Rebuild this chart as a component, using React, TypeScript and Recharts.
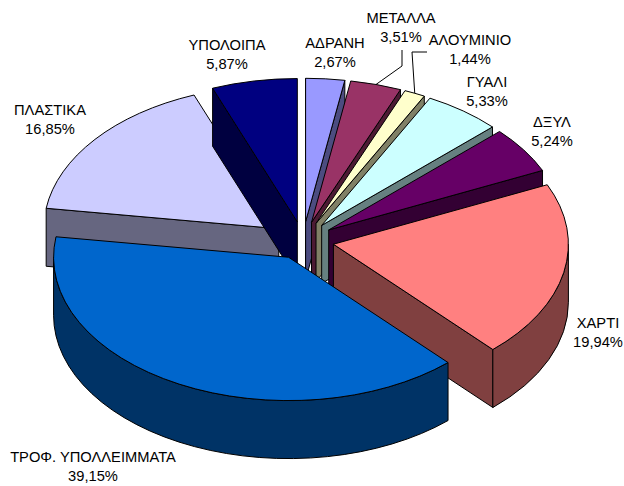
import React from "react";
import { PieChart, Pie, Cell } from "recharts";

const categories = ["ΠΛΑΣΤΙΚΑ", "ΥΠΟΛΟΙΠΑ", "ΑΔΡΑΝΗ", "ΜΕΤΑΛΛΑ", "ΑΛΟΥΜΙΝΙΟ", "ΓΥΑΛΙ", "ΔΞΥΛ", "ΧΑΡΤΙ", "ΤΡΟΦ. ΥΠΟΛΛΕΙΜΜΑΤΑ"];
const shares = [16.85, 5.87, 2.67, 3.51, 1.44, 5.33, 5.24, 19.94, 39.15];
const shareLabels = ["16,85%", "5,87%", "2,67%", "3,51%", "1,44%", "5,33%", "5,24%", "19,94%", "39,15%"];
const topColors = ["#CCCCFF", "#000080", "#9999FF", "#993366", "#FFFFCC", "#CCFFFF", "#660066", "#FF8080", "#0066CC"];
const sideColors = ["#666680", "#000040", "#4C4C80", "#4C1A33", "#808066", "#668080", "#330033", "#804040", "#003366"];

// label layout, per category
const labelCenters: [number, number][] = [
  [50, 120], [227, 55], [335, 53], [401, 28], [470, 50], [487, 92], [552, 132], [598, 333], [93, 467],
];
const leaders: Record<number, [number, number][]> = {
  3: [[1, 38], [1, 22]],
  4: [[-58, 2], [-43, 2]],
};

const W = 624;
const H = 486;
const CX = 303;
const CY = 240.5;
const R = 235;
const TILT = 0.61;
const EXPLODE = 31;
const DEPTH = 58;
const rad = Math.PI / 180;
const startAngle = 90 + (shares[0] + shares[1]) * 3.6;

const pt = (x: number, y: number, r: number, a: number): [number, number] => [
  x + r * Math.cos(a * rad),
  y - r * TILT * Math.sin(a * rad),
];

function Slice3D(props: any) {
  const { cx, cy, outerRadius, startAngle: s, endAngle: e, index } = props;
  const i = index ?? 0;
  const mid = (s + e) / 2;
  const ax = cx + EXPLODE * Math.cos(mid * rad);
  const ay = cy - EXPLODE * TILT * Math.sin(mid * rad);
  const ps = pt(ax, ay, outerRadius, s);
  const pe = pt(ax, ay, outerRadius, e);
  const m = pt(ax, ay, outerRadius, mid);
  const large = s - e > 180 ? 1 : 0;
  const ry = outerRadius * TILT;
  const top = `M${ax},${ay} L${ps[0]},${ps[1]} A${outerRadius},${ry} 0 ${large} 1 ${pe[0]},${pe[1]} Z`;

  const walls: string[] = [];
  [ps, pe].forEach((p) => {
    const dx = p[0] - ax;
    const dy = p[1] - ay;
    const cross = dx * (m[1] - ay) - dy * (m[0] - ax);
    if (cross * dx < 0) {
      walls.push(`M${ax},${ay} L${p[0]},${p[1]} L${p[0]},${p[1] + DEPTH} L${ax},${ay + DEPTH} Z`);
    }
  });
  for (let k = -2; k <= 1; k++) {
    const lo = Math.max(e, -180 + 360 * k);
    const hi = Math.min(s, 360 * k);
    if (hi > lo) {
      const a = pt(ax, ay, outerRadius, hi);
      const b = pt(ax, ay, outerRadius, lo);
      walls.push(
        `M${a[0]},${a[1]} A${outerRadius},${ry} 0 0 1 ${b[0]},${b[1]} L${b[0]},${b[1] + DEPTH} A${outerRadius},${ry} 0 0 0 ${a[0]},${a[1] + DEPTH} Z`
      );
    }
  }
  return (
    <g stroke="#000" strokeWidth={1} strokeLinejoin="round">
      {walls.map((d, n) => (
        <path key={n} d={d} fill={sideColors[i]} />
      ))}
      <path d={top} fill={topColors[i]} />
    </g>
  );
}

function SliceLabel(props: any) {
  const { cx, cy, midAngle, outerRadius, index } = props;
  const i = index ?? 0;
  const [lx, ly] = labelCenters[i];
  const edge = pt(
    cx + EXPLODE * Math.cos(midAngle * rad),
    cy - EXPLODE * TILT * Math.sin(midAngle * rad),
    outerRadius,
    midAngle
  );
  const lead = leaders[i];
  const font = "'Liberation Sans', Arial, sans-serif";
  return (
    <g>
      {lead && (
        <polyline
          points={[edge, ...lead.map(([dx, dy]) => [lx + dx, ly + dy])].map((p) => p.join(",")).join(" ")}
          fill="none"
          stroke="#000"
          strokeWidth={1}
        />
      )}
      <text x={lx} y={ly - 5} textAnchor="middle" fontFamily={font} fontSize={14.7} fill="#000">
        {categories[i]}
      </text>
      <text x={lx} y={ly + 14} textAnchor="middle" fontFamily={font} fontSize={14.7} fill="#000">
        {shareLabels[i]}
      </text>
    </g>
  );
}

const tableData = categories.map((name, i) => ({ name, value: shares[i] }));

export default function App() {
  return (
    <div style={{ position: "absolute", left: 0, top: 0, width: W, height: H, background: "#fff" }}>
      <PieChart width={W} height={H} margin={{ top: 0, right: 0, bottom: 0, left: 0 }}>
        <Pie
          data={tableData}
          dataKey="value"
          nameKey="name"
          cx={CX}
          cy={CY}
          innerRadius={0}
          outerRadius={R}
          startAngle={startAngle}
          endAngle={startAngle - 360}
          stroke="#000"
          shape={Slice3D}
          label={SliceLabel}
          labelLine={false}
          isAnimationActive={false}
        >
          {tableData.map((d, i) => (
            <Cell key={d.name} fill={topColors[i]} />
          ))}
        </Pie>
      </PieChart>
    </div>
  );
}
